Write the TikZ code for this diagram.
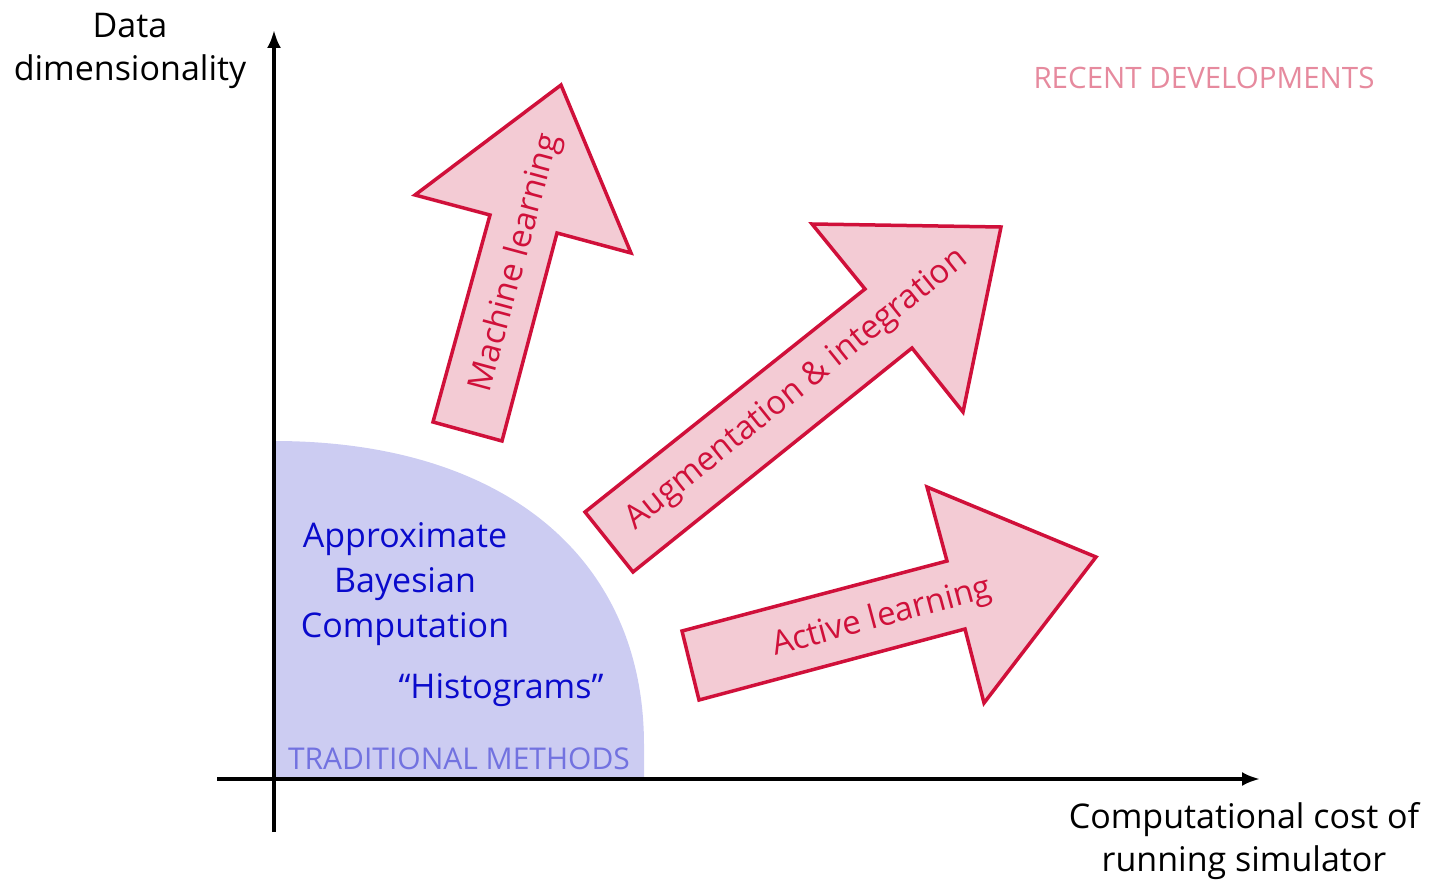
\documentclass[tikz,border=0pt]{standalone}
\usepackage{fontspec}
\setmainfont{Open Sans}
\usetikzlibrary{arrows.meta}
\definecolor{arrowfill}{HTML}{F3CBD4}
\definecolor{arrowline}{HTML}{D0103A}
\definecolor{regionfill}{HTML}{CCCCF2}
\definecolor{abcblue}{HTML}{0A0ACC}
\definecolor{tradblue}{HTML}{7272E0}
\definecolor{recentpink}{HTML}{E68A9E}
\tikzset{
  bigarrow/.style={fill=arrowfill, draw=arrowline, line width=3.5pt, line join=miter},
  arrowlabel/.style={text=arrowline, font=\fontsize{33}{40}\selectfont, inner sep=0pt},
  axis/.style={line width=3.5pt, -{Latex[length=18pt,width=14pt]}},
  axislabel/.style={text=black, font=\fontsize{34}{43}\selectfont, align=center, inner sep=0pt},
  bluetext/.style={text=abcblue, font=\fontsize{34}{45}\selectfont, align=center, inner sep=0pt},
  capslabel/.style={font=\fontsize{30}{36}\selectfont, inner sep=0pt}
}
\begin{document}
\begin{tikzpicture}[x=1pt,y=-1pt]
\useasboundingbox (0,0) rectangle (1432,885);
% traditional region
\fill[regionfill] (274,779) -- (274,441) .. controls (503,441) and (644,557) .. (644,745) -- (644,779) -- cycle;
% axes
\coordinate (xs) at (217,779);
\coordinate (xe) at (1260,779);
\coordinate (ys) at (274,832);
\coordinate (ye) at (274,30);
\draw[axis] (xs) -- (xe);
\draw[axis] (ys) -- (ye);
% arrows
\draw[bigarrow] (433,422) -- (490,215) -- (415,195) -- (561,85) -- (631,253) -- (557,233) -- (502,441) -- cycle;
\draw[bigarrow] (585,512) -- (865,289) -- (812,224) -- (1001,227) -- (963,412) -- (912,348) -- (633,572) -- cycle;
\draw[bigarrow] (682,631) -- (947,561) -- (927,487) -- (1096,557) -- (984,703) -- (965,629) -- (699,700) -- cycle;
% arrow labels
\node[arrowlabel, rotate=74.9] (ml) at (516,263) {Machine learning};
\node[arrowlabel, rotate=38.8] (ai) at (797,390) {Augmentation \& integration};
\node[arrowlabel, rotate=15] (al) at (882,618) {Active learning};
% texts
\node[axislabel] (ylab) at (130,51) {Data\\dimensionality};
\node[axislabel] (xlab) at (1244,841) {Computational cost of\\running simulator};
\node[bluetext] (abc) at (405,584) {Approximate\\Bayesian\\Computation};
\node[bluetext, anchor=base] (hist) at (501,698) {“Histograms”};
\node[capslabel, text=tradblue, anchor=base] (trad) at (459,769) {TRADITIONAL METHODS};
\node[capslabel, font=\fontsize{29.5}{36}\selectfont, text=recentpink, anchor=base] (recent) at (1204,89) {RECENT DEVELOPMENTS};
\end{tikzpicture}
\end{document}
